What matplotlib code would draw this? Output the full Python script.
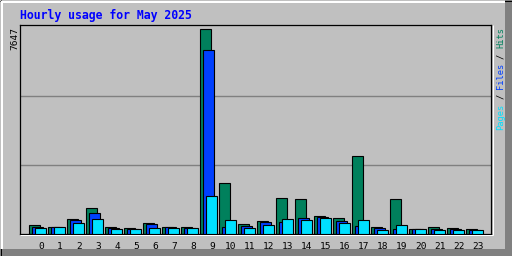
import matplotlib
matplotlib.use("Agg")
from matplotlib import pyplot as plt
from matplotlib.lines import Line2D
from matplotlib.patches import Rectangle

hours = list(range(24))
hits = [300, 260, 560, 940, 225, 190, 375, 260, 225, 7647, 1900, 350,
        460, 1325, 1290, 650, 575, 2900, 240, 1290, 160, 240, 200, 160]
files = [225, 225, 510, 750, 190, 150, 340, 225, 190, 6890, 240, 275,
         425, 425, 575, 610, 460, 275, 200, 160, 160, 160, 160, 125]
pages = [190, 225, 375, 560, 185, 150, 190, 190, 190, 1390, 490, 200,
         310, 540, 500, 575, 385, 500, 125, 310, 160, 125, 125, 125]
title = "Hourly usage for May 2025"
max_label = "7647"

W, H = 512, 256
bg = "#C0C0C0"
c_hits, c_files, c_pages = "#00805C", "#0040FF", "#00E0FF"
mono = "DejaVu Sans Mono"

fig = plt.figure(figsize=(W / 100, H / 100), dpi=100, facecolor="#808080")

def fx(x):
    return x / W

def fy(y):
    return 1 - y / H

def fline(x0, y0, x1, y1, color, lw=1.0, z=5):
    fig.add_artist(Line2D([fx(x0), fx(x1)], [fy(y0), fy(y1)], color=color,
                          lw=lw * 0.72, transform=fig.transFigure,
                          solid_capstyle="butt", zorder=z))

# outer bevel frame
fig.add_artist(Rectangle((0, fy(249)), fx(505), 1 - fy(249), color=bg,
                         transform=fig.transFigure, lw=0, zorder=-10))
fline(0, 0.5, 512, 0.5, "black", z=-5)
fline(0.5, 0, 0.5, 256, "black", z=-5)
fline(1, 2, 505, 2, "white", 2, z=-5)
fline(2, 1, 2, 249, "white", 2, z=-5)

# plot area: x 20..491, y 24.5..233.5 (pixels)
L, R, T, B = 20, 491, 24.5, 233.5
ax = fig.add_axes([fx(L), fy(B), fx(R - L), fy(T) - fy(B)])
ax.set_facecolor(bg)

ymax = 7647 * (B - T) / (B - 29.3)
ax.set_xlim(-21 / 19, (R - 41) / 19)
ax.set_ylim(0, ymax)

for frac in [(B - 165) / (B - T), (B - 95.7) / (B - T)]:
    ax.axhline(frac * ymax, color="#808080", lw=1.0, zorder=0)

bw = 11 / 19
lw = 0.8
ax.bar([h - 12 / 19 for h in hours], hits, width=bw, align="edge",
       color=c_hits, edgecolor="black", linewidth=lw, zorder=2)
ax.bar([h - 9 / 19 for h in hours], files, width=bw, align="edge",
       color=c_files, edgecolor="black", linewidth=lw, zorder=3)
ax.bar([h - 6 / 19 for h in hours], pages, width=bw, align="edge",
       color=c_pages, edgecolor="black", linewidth=lw, zorder=4)

ax.set_xticks(hours)
ax.set_xticklabels([str(h) for h in hours], fontfamily=mono, fontsize=6.8)
ax.set_yticks([])
ax.tick_params(axis="x", length=0, pad=6)
for s in ax.spines.values():
    s.set_color("black")
    s.set_linewidth(0.9)

fline(L, B + 1.5, R + 1.5, B + 1.5, "white")
fline(R + 1.5, T, R + 1.5, B + 1.5, "white")

# title and labels
fig.text(fx(19.5), fy(15.5), title, color="#0000FF", fontfamily=mono,
         fontweight="bold", fontsize=8.3, ha="left", va="center")
fig.text(fx(15), fy(27.5), max_label, rotation=90, fontfamily=mono,
         fontsize=6.8, ha="center", va="top", color="black")

cw = 5.1
y0 = 130
parts = [("Pages", 0, c_pages), ("/", 6, "black"), ("Files", 8, c_files),
         ("/", 14, "black"), ("Hits", 16, c_hits)]
for txt, start, col in parts:
    fig.text(fx(500.5), fy(y0 - start * cw), txt, rotation=90, fontfamily=mono,
             fontsize=6.3, ha="center", va="bottom", color=col)

fig.savefig("out.png", dpi=100, facecolor=fig.get_facecolor())
